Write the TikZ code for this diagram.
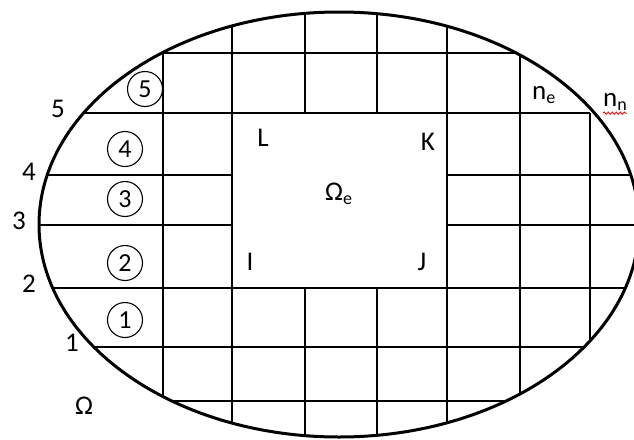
\documentclass[tikz,border=0pt]{standalone}
\usepackage{fontspec}
\setmainfont{Carlito}
\usetikzlibrary{decorations.pathmorphing}
\newcommand{\subtxt}[1]{{\fontsize{18}{20}\selectfont\raisebox{-4pt}{#1}}}
\begin{document}
\begin{tikzpicture}[x=1pt,y=-1pt,
  gridline/.style={line width=1.6pt, black},
  outline/.style={line width=3pt, black},
  lbl/.style={font=\fontsize{27}{32}\selectfont, inner sep=0pt},
  circnum/.style={circle, draw, line width=1.1pt, minimum size=35pt, inner sep=0pt, font=\fontsize{26}{30}\selectfont},
  squiggle/.style={red, line width=0.8pt, decorate, decoration={snake, amplitude=1.2pt, segment length=4pt}}]
\useasboundingbox (0,0) rectangle (634,439);
\begin{scope}
  \clip (339,224.5) ellipse [x radius=300, y radius=212.5];
  % horizontal lines
  \draw[gridline] (-50,53) -- (700,53);
  \draw[gridline] (-50,113) -- (590,113);
  \draw[gridline] (-50,175) -- (232,175);
  \draw[gridline] (447,175) -- (700,175);
  \draw[gridline] (-50,225) -- (232,225);
  \draw[gridline] (447,225) -- (700,225);
  \draw[gridline] (-50,288) -- (700,288);
  \draw[gridline] (-50,347) -- (700,347);
  \draw[gridline] (-50,401) -- (700,401);
  % vertical lines
  \draw[gridline] (163,-50) -- (163,500);
  \draw[gridline] (232,-50) -- (232,500);
  \draw[gridline] (305,-50) -- (305,113);
  \draw[gridline] (305,288) -- (305,500);
  \draw[gridline] (377,-50) -- (377,113);
  \draw[gridline] (377,288) -- (377,500);
  \draw[gridline] (447,-50) -- (447,500);
  \draw[gridline] (520,-50) -- (520,500);
  \draw[gridline] (590,113) -- (590,500);
\end{scope}
\draw[outline] (339,224.5) ellipse [x radius=300, y radius=212.5];
% boundary node numbers
\node[lbl] (b5) at (58,109) {5};
\node[lbl] (b4) at (29,172) {4};
\node[lbl] (b3) at (19,221) {3};
\node[lbl] (b2) at (29,284) {2};
\node[lbl] (b1) at (72,343) {1};
\node[lbl] (om) at (84,406) {Ω};
% circled element numbers
\node[circnum] (c5) at (145,89) {5};
\node[circnum] (c4) at (125,149) {4};
\node[circnum] (c3) at (125,199) {3};
\node[circnum] (c2) at (125,263) {2};
\node[circnum] (c1) at (125,320) {1};
% corner labels
\node[lbl] (L) at (263,138) {L};
\node[lbl] (K) at (428,142) {K};
\node[lbl] (I) at (250,262) {I};
\node[lbl] (J) at (422,262) {J};
\node[lbl, anchor=base west] (ome) at (325,200) {Ω\subtxt{e}};
\node[lbl, anchor=base west] (ne) at (532,99) {n\subtxt{e}};
\node[lbl, anchor=base west] (nn) at (603,106) {n\subtxt{n}};
\draw[squiggle] ([yshift=-3pt]nn.south west) -- ([yshift=-3pt]nn.south east);
\end{tikzpicture}
\end{document}
